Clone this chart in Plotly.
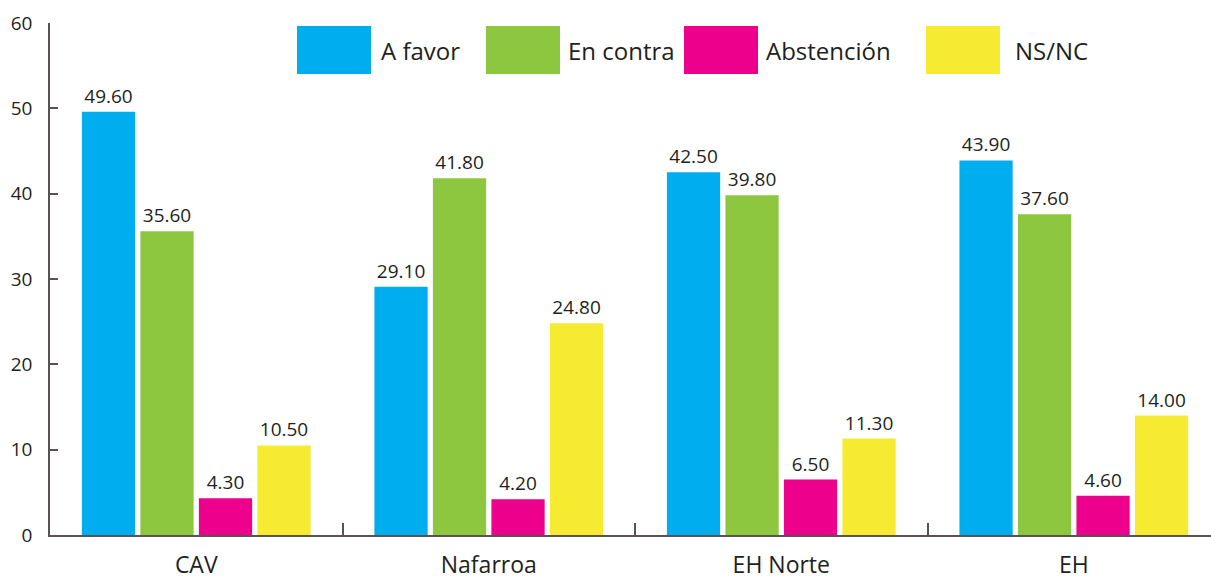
import plotly.graph_objects as go

categories = ["CAV", "Nafarroa", "EH Norte", "EH"]
series_names = ["A favor", "En contra", "Abstención", "NS/NC"]
a_favor = [49.60, 29.10, 42.50, 43.90]
en_contra = [35.60, 41.80, 39.80, 37.60]
abstencion = [4.30, 4.20, 6.50, 4.60]
ns_nc = [10.50, 24.80, 11.30, 14.00]
y_ticks = [0, 10, 20, 30, 40, 50, 60]

colors = ["#00aeef", "#8dc63f", "#ec008c", "#f6eb31"]
series_values = [a_favor, en_contra, abstencion, ns_nc]

FONT = "Open Sans"
TEXT = "#231f20"
AXIS = "#5a5252"

W, H = 1211, 580
ML, MR, MT, MB = 50, 0, 23, 45

fig = go.Figure()
for name, vals, col in zip(series_names, series_values, colors):
    fig.add_trace(go.Bar(
        x=categories, y=vals, name=name, marker=dict(color=col, line=dict(width=0)),
        text=[f"{v:.2f}" for v in vals], textposition="outside",
        textfont=dict(family=FONT, size=19, color=TEXT), cliponaxis=False,
        showlegend=False,
    ))

# custom large legend (boxes + labels), positioned in pixels -> paper coords
legend_box_left = [297, 486, 684, 926]
legend_text_left = [379, 566, 764, 1013]
box_w, box_top, box_bot = 74, 26, 74
pw, ph = W - ML - MR, H - MT - MB
def px(xp):
    return (xp - ML) / pw
def py(yp):
    return (H - MB - yp) / ph

shapes, annotations = [], []
for name, col, bx, tx in zip(series_names, colors, legend_box_left, legend_text_left):
    shapes.append(dict(type="rect", xref="paper", yref="paper",
                       x0=px(bx), x1=px(bx + box_w), y0=py(box_bot), y1=py(box_top),
                       fillcolor=col, line=dict(width=0), layer="above"))
    annotations.append(dict(xref="paper", yref="paper", x=px(tx), y=py(50),
                            text=name, showarrow=False, xanchor="left", yanchor="middle",
                            font=dict(family=FONT, size=24, color=TEXT)))

fig.update_layout(
    width=W, height=H,
    margin=dict(l=ML, r=MR, t=MT, b=MB, autoexpand=False),
    paper_bgcolor="white", plot_bgcolor="white",
    barmode="group", bargap=0.2, bargroupgap=0.09,
    shapes=shapes, annotations=annotations,
    font=dict(family=FONT, color=TEXT),
)
fig.update_xaxes(
    type="category", range=[-0.5, 3.469], automargin=False,
    showline=True, linecolor=AXIS, linewidth=1.5,
    ticks="inside", ticklen=12, tickcolor=AXIS, tickwidth=1.5,
    tickson="boundaries", ticklabelstandoff=9,
    tickfont=dict(family=FONT, size=23, color=TEXT),
    showgrid=False, zeroline=False,
)
fig.update_yaxes(
    range=[0, 60], tickvals=y_ticks, automargin=False,
    showline=True, linecolor=AXIS, linewidth=1.5,
    ticks="inside", ticklen=8, tickcolor=AXIS, tickwidth=1.5,
    ticklabelstandoff=12,
    tickfont=dict(family=FONT, size=19, color=TEXT),
    showgrid=False, zeroline=False,
)

fig.write_html(
    "out.html",
    config={"displayModeBar": False},
    post_script="document.body.style.margin='0';document.body.style.overflow='hidden';",
)
